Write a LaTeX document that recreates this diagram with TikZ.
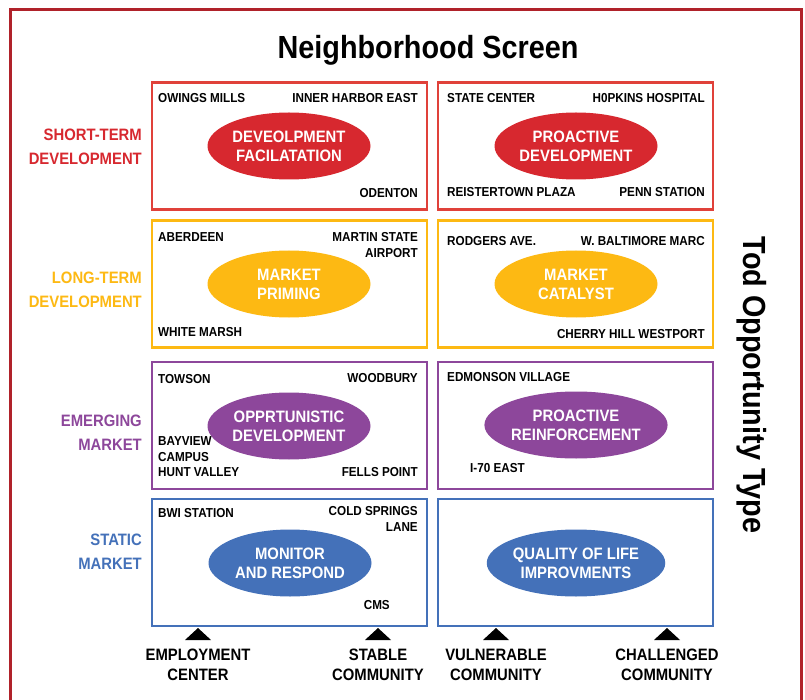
\documentclass[tikz,border=0pt]{standalone}
\usepackage{fontspec}
\setmainfont{Liberation Sans}[FakeStretch=0.9]
\usetikzlibrary{shapes.geometric}

\definecolor{framered}{HTML}{B0222A}
\definecolor{cred}{HTML}{D7282F}
\definecolor{credline}{HTML}{E0413A}
\definecolor{cgold}{HTML}{FDB913}
\definecolor{cpurp}{HTML}{8D479B}
\definecolor{cblue}{HTML}{4471B9}

\tikzset{
  frame/.style={draw=framered, line width=3pt},
  cell/.style={draw=#1, line width=2.4pt, minimum width=275pt, minimum height=127pt, inner sep=0pt},
  ell/.style={ellipse, fill=#1, text=white, minimum width=163pt, minimum height=67pt, inner sep=0pt,
    align=center, font=\fontsize{16.5}{19}\selectfont\bfseries},
  place/.style={inner sep=0pt, font=\fontsize{13}{15.5}\selectfont\bfseries},
  side/.style={inner sep=0pt, anchor=east, align=right, text=#1,
    font=\fontsize{16.5}{24}\selectfont\bfseries},
  axis/.style={inner sep=0pt, align=center, font=\fontsize{16.5}{20}\selectfont\bfseries},
  big/.style={inner sep=0pt, font=\fontsize{32}{36}\selectfont\bfseries},
}

\begin{document}
\begin{tikzpicture}[x=1pt, y=-1pt]
\useasboundingbox (0,0) rectangle (805,700);
\fill[white] (0,0) rectangle (805,700);

% outer frame, open at the bottom
\draw[frame] (10,700) -- (10,10) -- (801,10) -- (801,700);

% headings
\node[big] (title) at (428,50) {Neighborhood Screen};
\node[big, rotate=-90] (ytitle) at (752,385) {Tod Opportunity Type};

% grid of cells
\node[cell=credline] (c11) at (289.5,146) {};
\node[cell=credline] (c12) at (575.5,146) {};
\node[cell=cgold]    (c21) at (289.5,284) {};
\node[cell=cgold]    (c22) at (575.5,284) {};
\node[cell=cpurp]    (c31) at (289.5,425.5) {};
\node[cell=cpurp]    (c32) at (575.5,425.5) {};
\node[cell=cblue]    (c41) at (289.5,562.5) {};
\node[cell=cblue]    (c42) at (575.5,562.5) {};

% strategy ellipses
\node[ell=cred]  (e11) at (289,146) {DEVEOLPMENT\\FACILATATION};
\node[ell=cred]  (e12) at (576,146) {PROACTIVE\\DEVELOPMENT};
\node[ell=cgold] (e21) at (289,284) {MARKET\\PRIMING};
\node[ell=cgold] (e22) at (576,284) {MARKET\\CATALYST};
\node[ell=cpurp] (e31) at (289,426) {OPPRTUNISTIC\\DEVELOPMENT};
\node[ell=cpurp] (e32) at (576,425) {PROACTIVE\\REINFORCEMENT};
\node[ell=cblue] (e41) at (290,563) {MONITOR\\AND RESPOND};
\node[ell=cblue] (e42) at (576,563) {QUALITY OF LIFE\\IMPROVMENTS};

% station names
\node[place, anchor=west] (p1)  at (158,98)  {OWINGS MILLS};
\node[place, anchor=east] (p2)  at (418,98)  {INNER HARBOR EAST};
\node[place, anchor=east] (p3)  at (418,193) {ODENTON};
\node[place, anchor=west] (p4)  at (447,98)  {STATE CENTER};
\node[place, anchor=east] (p5)  at (705,98)  {H0PKINS HOSPITAL};
\node[place, anchor=west] (p6)  at (447,192) {REISTERTOWN PLAZA};
\node[place, anchor=east] (p7)  at (705,192) {PENN STATION};
\node[place, anchor=west] (p8)  at (158,237) {ABERDEEN};
\node[place, anchor=east, align=right] (p9) at (418,245) {MARTIN STATE\\AIRPORT};
\node[place, anchor=west] (p10) at (158,332) {WHITE MARSH};
\node[place, anchor=west] (p11) at (447,241) {RODGERS AVE.};
\node[place, anchor=east] (p12) at (705,241) {W. BALTIMORE MARC};
\node[place, anchor=east] (p13) at (705,334) {CHERRY HILL WESTPORT};
\node[place, anchor=west] (p14) at (158,379) {TOWSON};
\node[place, anchor=east] (p15) at (418,378) {WOODBURY};
\node[place, anchor=west, align=left] (p16) at (158,457) {BAYVIEW\\CAMPUS\\HUNT VALLEY};
\node[place, anchor=east] (p17) at (418,472) {FELLS POINT};
\node[place, anchor=west] (p18) at (447,377) {EDMONSON VILLAGE};
\node[place, anchor=west] (p19) at (470,468) {I-70 EAST};
\node[place, anchor=west] (p20) at (158,513) {BWI STATION};
\node[place, anchor=east, align=right] (p21) at (418,519) {COLD SPRINGS\\LANE};
\node[place, anchor=east] (p22) at (390,605) {CMS};

% row headings
\node[side=cred]  (r1) at (142,147)   {SHORT-TERM\\DEVELOPMENT};
\node[side=cgold] (r2) at (142,290)   {LONG-TERM\\DEVELOPMENT};
\node[side=cpurp] (r3) at (142,432.5) {EMERGING\\MARKET};
\node[side=cblue] (r4) at (142,551.5) {STATIC\\MARKET};

% column markers and headings
\foreach \n/\x in {1/198, 2/378, 3/496, 4/667} {
  \coordinate (m\n) at (\x,628);
  \fill[black] (m\n) -- ++(13,12) -- ++(-26,0) -- cycle;
}
\node[axis] (a1) at (198,665) {EMPLOYMENT\\CENTER};
\node[axis] (a2) at (378,665) {STABLE\\COMMUNITY};
\node[axis] (a3) at (496,665) {VULNERABLE\\COMMUNITY};
\node[axis] (a4) at (667,665) {CHALLENGED\\COMMUNITY};
\end{tikzpicture}
\end{document}
